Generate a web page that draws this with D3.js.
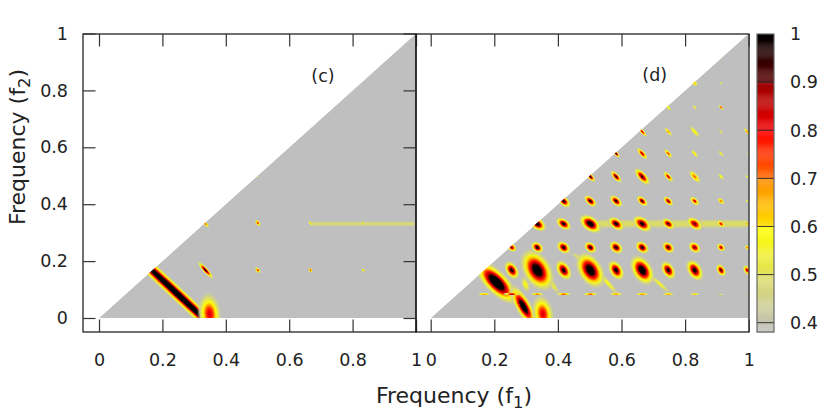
<!DOCTYPE html>
<html>
<head>
<meta charset="utf-8">
<script src="https://cdn.jsdelivr.net/npm/d3@7"></script>
<style>
  body { margin: 0; background: #fff; }
  text { font-family: "DejaVu Sans", sans-serif; fill: #222; }
  .axis text { font-size: 17.5px; }
  .axis path { display: none; }
  .axis line { stroke: #333; stroke-width: 1.2; }
</style>
</head>
<body>
<svg id="chart" width="830" height="415"></svg>
<script>
const tickValues = [0, 0.2, 0.4, 0.6, 0.8, 1];
const barTicks = [0.4, 0.5, 0.6, 0.7, 0.8, 0.9, 1];

// colour bar (small gaps are the jumps in the palette)
const paletteValues = [0.38, 0.4, 0.4999, 0.5001, 0.5999, 0.6001, 0.6999, 0.7001, 0.7999, 0.8001, 0.8999, 0.9001, 1];
const paletteColors = ['#c0c0c0', '#c4c4b0', '#dede68', '#e2e25a', '#ffff00', '#ffe000', '#ff8c00', '#ff6a00', '#ff0000', '#f00000', '#990000', '#5c0000', '#000000'];

// panel (c) peaks
const cF1 = [0.336, 0.336, 0.501, 0.501, 0.500, 0.667, 0.667, 0.834, 0.833];
const cF2 = [0.168, 0.331, 0.168, 0.334, 0.500, 0.168, 0.333, 0.168, 0.333];
const cValue = [0.96, 0.74, 0.78, 0.78, 0.56, 0.78, 0.62, 0.68, 0.56];
const cLong = [0.030, 0.014, 0.010, 0.010, 0.005, 0.007, 0.009, 0.006, 0.008];
const cWide = [0.007, 0.005, 0.006, 0.006, 0.003, 0.005, 0.004, 0.004, 0.004];

// the wide diagonal ridge f1 + f2 = 1/3, and the blob next to it
const cBandF1 = [0.245, 0.349];
const cBandF2 = [0.087, 0.014];
const cBandValue = [1.1, 0.82];
const cBandLong = [0.40, 0.056];
const cBandWide = [0.0185, 0.030];
const cBandTilt = [43, 84];

// panel (d) lattice of peaks, rows are f2 and columns are f1, 0 means no peak
const latticeF1 = [0.086, 0.168, 0.255, 0.335, 0.418, 0.502, 0.583, 0.665, 0.747, 0.830, 0.913, 0.995];
const latticeF2 = [0.084, 0.168, 0.248, 0.331, 0.411, 0.497, 0.578, 0.655, 0.740, 0.825, 0.915];
const dPeakValue = [
  [0.70, 0.76, 0.92, 0.80, 0.80, 0.80, 0.78, 0.78, 0.78, 0.76, 0.74, 0.70],
  [0, 0, 0.98, 1.06, 1.00, 1.06, 1.00, 1.05, 0.98, 1.00, 0.94, 0.85],
  [0, 0, 0.92, 1.00, 0.98, 0.98, 0.98, 0.97, 0.96, 0.92, 0.86, 0.72],
  [0, 0, 0, 1.02, 1.00, 1.05, 1.00, 1.00, 0.94, 0.92, 0.80, 0.70],
  [0, 0, 0, 0, 0.98, 0.98, 0.97, 0.95, 0.92, 0.82, 0.72, 0.64],
  [0, 0, 0, 0, 0, 0.98, 0.96, 0.94, 0.84, 0.72, 0.60, 0.58],
  [0, 0, 0, 0, 0, 0, 0.97, 0.86, 0.76, 0.62, 0.56, 0.54],
  [0, 0, 0, 0, 0, 0, 0, 0.84, 0.70, 0.60, 0.55, 0.72],
  [0, 0, 0, 0, 0, 0, 0, 0, 0.60, 0.56, 0.80, 0],
  [0, 0, 0, 0, 0, 0, 0, 0, 0, 0.65, 0.52, 0],
  [0, 0, 0, 0, 0, 0, 0, 0, 0, 0, 0.52, 0]
];
const dPeakLong = [
  [0.006, 0.018, 0.022, 0.018, 0.020, 0.020, 0.018, 0.018, 0.016, 0.014, 0.010, 0.008],
  [0, 0, 0.026, 0.058, 0.028, 0.050, 0.028, 0.042, 0.026, 0.030, 0.018, 0.015],
  [0, 0, 0.014, 0.018, 0.020, 0.018, 0.020, 0.020, 0.018, 0.018, 0.013, 0.008],
  [0, 0, 0, 0.026, 0.022, 0.032, 0.024, 0.028, 0.020, 0.024, 0.014, 0.008],
  [0, 0, 0, 0, 0.022, 0.020, 0.020, 0.018, 0.016, 0.016, 0.012, 0.005],
  [0, 0, 0, 0, 0, 0.018, 0.020, 0.028, 0.018, 0.022, 0.012, 0.008],
  [0, 0, 0, 0, 0, 0, 0.014, 0.020, 0.016, 0.014, 0.012, 0.005],
  [0, 0, 0, 0, 0, 0, 0, 0.018, 0.016, 0.022, 0.010, 0.014],
  [0, 0, 0, 0, 0, 0, 0, 0, 0.012, 0.010, 0.009, 0],
  [0, 0, 0, 0, 0, 0, 0, 0, 0, 0.010, 0.006, 0],
  [0, 0, 0, 0, 0, 0, 0, 0, 0, 0, 0.005, 0]
];
const dRowAspect = [0.18, 0.62, 0.72, 0.6, 0.55, 0.42, 0.38, 0.3, 0.4, 0.7, 0.6];
const dRowTilt = [0, 58, 40, 35, 42, 48, 48, 48, 48, 30, 40];

// ridges and yellow tails in panel (d)
const dBandF1 = [0.207, 0.292, 0.353, 0.378, 0.555, 0.720, 0.305, 0.470, 0.298];
const dBandF2 = [0.125, 0.040, 0.014, 0.125, 0.125, 0.120, 0.205, 0.210, 0.118];
const dBandValue = [1.15, 1.06, 0.82, 0.58, 0.58, 0.56, 0.56, 0.54, 0.58];
const dBandLong = [0.072, 0.062, 0.050, 0.044, 0.050, 0.044, 0.032, 0.032, 0.024];
const dBandWide = [0.029, 0.020, 0.028, 0.009, 0.008, 0.007, 0.008, 0.007, 0.011];
const dBandTilt = [45, 60, 80, 55, 48, 42, 100, 30, 70];

// the yellow ridge along f2 = 1/3
const cHazeF1 = [0.667, 0.995];
const dHazeF1 = [0.50, 0.995];
const hazeF2 = 0.331;

const margin = { top: 34, bottom: 332 };
const panelC = { left: 83, right: 416, zero: 99, unit: 317 };
const panelD = { left: 416, right: 749, zero: 430.7, unit: 318 };

const svg = d3.select('#chart');
const defs = svg.append('defs');

const color = d3.scaleLinear().domain(paletteValues).range(paletteColors).clamp(true);
const y = d3.scaleLinear().domain([0, 1]).range([318, 33.5]);
const yBar = d3.scaleLinear().domain([0.4, 1]).range([322.7, 34]);

defs.append('filter').attr('id', 'soft')
  .append('feGaussianBlur').attr('stdDeviation', 0.6);

// bell shaped fall from the peak value down to the grey floor at the rim
const fall = t => (Math.exp(-3 * t * t) - Math.exp(-3)) / (1 - Math.exp(-3));

function drawPeaks(g, x, unit, peaks, id) {
  const px = f => f * unit * 1.35;
  peaks.forEach((p, i) => {
    const grad = defs.append('radialGradient').attr('id', `${id}${i}`);
    d3.range(0, 1.001, 0.04).forEach(t => {
      const v = 0.4 + (p.value - 0.4) * fall(t);
      grad.append('stop')
        .attr('offset', t)
        .attr('stop-color', color(v))
        .attr('stop-opacity', Math.min(1, (v - 0.4) / 0.06));
    });
  });
  g.selectAll('ellipse').data(peaks).join('ellipse')
    .attr('rx', d => px(d.long))
    .attr('ry', d => px(d.wide))
    .attr('transform', d => `translate(${x(d.f1)},${y(d.f2)}) rotate(${d.tilt})`)
    .attr('fill', (d, i) => `url(#${id}${i})`);
}

function drawPanel(panel, name, peaks, hazeF1, hazeWidth, hazeOpacity) {
  const x = d3.scaleLinear().domain([0, 1]).range([panel.zero, panel.zero + panel.unit]);
  const g = svg.append('g');

  defs.append('clipPath').attr('id', `clip-${name}`)
    .append('path').attr('d', d3.line()([[x(0), y(0)], [x(1), y(1)], [x(1), y(0)]]) + 'Z');

  const heat = g.append('g').attr('clip-path', `url(#clip-${name})`).append('g').attr('filter', 'url(#soft)');
  heat.append('path')
    .attr('d', d3.line()([[x(0), y(0)], [x(1.02), y(1.02)], [x(1.02), y(-0.01)], [x(0), y(-0.01)]]) + 'Z')
    .attr('fill', '#bfbfbf');
  [[1.6, 0.35], [1, 0.55]].forEach(([w, o]) => {
    heat.append('path')
      .attr('d', d3.line()(hazeF1.map(f => [x(f), y(hazeF2)])))
      .attr('stroke', color(0.52))
      .attr('stroke-width', hazeWidth * w)
      .attr('stroke-opacity', hazeOpacity * o)
      .attr('fill', 'none');
  });
  drawPeaks(heat.append('g'), x, panel.unit, peaks, name);

  g.append('rect')
    .attr('x', panel.left).attr('y', margin.top)
    .attr('width', panel.right - panel.left).attr('height', margin.bottom - margin.top)
    .attr('fill', 'none').attr('stroke', '#111').attr('stroke-width', 1.2);

  const inward = 12.5;
  const xBottom = d3.axisBottom(x).tickValues(tickValues).tickFormat(d3.format('~g')).tickSize(-inward).tickPadding(22);
  g.append('g').attr('class', 'axis').attr('transform', `translate(0,${margin.bottom})`).call(xBottom);
  const xTop = d3.axisTop(x).tickValues(tickValues).tickFormat('').tickSize(-inward);
  g.append('g').attr('class', 'axis').attr('transform', `translate(0,${margin.top})`).call(xTop);
}

function toPeaks(f1, f2, value, long, wide, tilt) {
  return f1.map((d, i) => ({ f1: d, f2: f2[i], value: value[i], long: long[i], wide: wide[i], tilt: Array.isArray(tilt) ? tilt[i] : tilt }));
}

const cPeaks = toPeaks(cBandF1, cBandF2, cBandValue, cBandLong, cBandWide, cBandTilt)
  .concat(toPeaks(cF1, cF2, cValue, cLong, cWide, 48));

const latticePeaks = [];
latticeF2.forEach((f2, r) => {
  latticeF1.forEach((f1, c) => {
    if (dPeakValue[r][c] > 0) {
      latticePeaks.push({
        f1, f2,
        value: dPeakValue[r][c],
        long: dPeakLong[r][c],
        wide: dPeakLong[r][c] * dRowAspect[r],
        tilt: dRowTilt[r]
      });
    }
  });
});
const dPeaks = toPeaks(dBandF1, dBandF2, dBandValue, dBandLong, dBandWide, dBandTilt).concat(latticePeaks);

drawPanel(panelC, 'c', cPeaks, cHazeF1, 3, 0.75);
drawPanel(panelD, 'd', dPeaks, dHazeF1, 5, 1);

// y axes only on the two sides of panel (c)
const yLeft = d3.axisLeft(y).tickValues(tickValues).tickFormat(d3.format('~g')).tickSize(-12.5).tickPadding(15);
svg.append('g').attr('class', 'axis').attr('transform', `translate(${panelC.left},0)`).call(yLeft);
const yRight = d3.axisRight(y).tickValues(tickValues).tickFormat('').tickSize(-12.5);
svg.append('g').attr('class', 'axis').attr('transform', `translate(${panelC.right},0)`).call(yRight);

svg.append('text').attr('x', 323).attr('y', 82).attr('text-anchor', 'middle').style('font-size', '17.5px').text('(c)');
svg.append('text').attr('x', 654.7).attr('y', 81).attr('text-anchor', 'middle').style('font-size', '17.5px').text('(d)');

const xTitle = svg.append('text').attr('x', 454).attr('y', 403).attr('text-anchor', 'middle').style('font-size', '22px');
xTitle.append('tspan').text('Frequency (f');
xTitle.append('tspan').attr('dy', 5).style('font-size', '16.5px').text('1');
xTitle.append('tspan').attr('dy', -5).text(')');

const yTitle = svg.append('text').attr('transform', 'translate(25,147) rotate(-90)').attr('text-anchor', 'middle').style('font-size', '22px');
yTitle.append('tspan').text('Frequency (f');
yTitle.append('tspan').attr('dy', 5).style('font-size', '16.5px').text('2');
yTitle.append('tspan').attr('dy', -5).text(')');

// colour bar
const barX = 757, barW = 17;
const barG = svg.append('g');
barG.selectAll('rect').data(d3.range(yBar.invert(margin.bottom), 1, 0.002)).join('rect')
  .attr('x', barX).attr('width', barW)
  .attr('y', d => yBar(d) - 0.6).attr('height', 1.2)
  .attr('fill', d => color(d));
barG.selectAll('line').data(barTicks.slice(0, -1)).join('line')
  .attr('x1', barX).attr('x2', barX + barW)
  .attr('y1', d => yBar(d)).attr('y2', d => yBar(d))
  .attr('stroke', '#222').attr('stroke-width', 0.9);
barG.append('rect').attr('x', barX).attr('y', margin.top).attr('width', barW).attr('height', margin.bottom - margin.top)
  .attr('fill', 'none').attr('stroke', '#666').attr('stroke-width', 1.2);
barG.selectAll('text').data(barTicks).join('text')
  .attr('x', 790).attr('y', d => yBar(d)).attr('dy', '0.36em')
  .style('font-size', '17.5px')
  .text(d3.format('~g'));
</script>
</body>
</html>
